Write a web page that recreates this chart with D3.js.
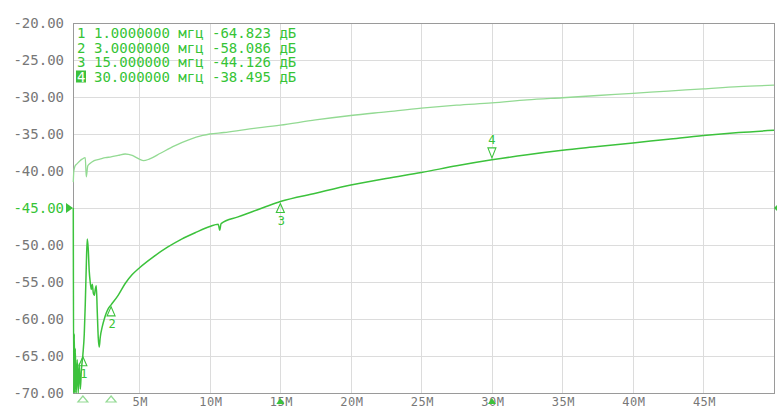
<!DOCTYPE html>
<html>
<head>
<meta charset="utf-8">
<script src="https://cdn.jsdelivr.net/npm/d3@7"></script>
<style>
  html, body { margin: 0; padding: 0; background: #fff; }
  svg { display: block; }
  .mono { font-family: "DejaVu Sans Mono", monospace; }
</style>
</head>
<body>
<svg id="chart" width="777" height="408"></svg>
<script>
// Sweep range, MHz
const freqStart = 0.3;
const freqStop = 50;

// Axis ticks
const yTicks = [-20, -25, -30, -35, -40, -45, -50, -55, -60, -65, -70];
const xTicks = [5, 10, 15, 20, 25, 30, 35, 40, 45];
const xTickLabels = ["5M", "10M", "15M", "20M", "25M", "30M", "35M", "40M", "45M"];
const refLevel = -45;

// Trace 1 (lower, dB) vs frequency (MHz)
const trace1Freq = [0.32, 0.35, 0.39, 0.43, 0.46, 0.53, 0.60, 0.67, 0.74, 0.82, 0.89, 1.0,
  1.10, 1.17, 1.24, 1.31, 1.38, 1.45, 1.52, 1.60, 1.67, 1.74, 1.81, 1.88, 1.95, 2.02, 2.09,
  2.16, 2.23, 2.38, 2.52, 2.66, 2.80, 3.0, 3.5, 4.0, 4.5, 5.0, 6.0, 7.0, 8.0, 9.0, 10.0,
  10.6, 10.7, 10.8, 12.0, 13.0, 14.0, 15.0, 17.5, 20.0, 22.5, 25.0, 27.5, 30.0, 32.5, 35.0,
  37.5, 40.0, 42.5, 45.0, 47.5, 50.0];
const trace1Val = [-45.0, -70.0, -62.0, -70.0, -64.0, -70.0, -65.5, -70.0, -66.0, -69.5, -67.0, -64.823,
  -62.0, -58.0, -53.0, -49.2, -50.5, -53.5, -55.0, -56.0, -55.3, -56.5, -56.8, -56.0, -55.5, -59.0, -62.5,
  -63.8, -62.5, -61.0, -60.0, -59.2, -58.6, -58.086, -56.8, -55.2, -54.0, -53.1, -51.6, -50.3, -49.2, -48.3, -47.5,
  -47.2, -48.0, -47.1, -46.2, -45.5, -44.8, -44.126, -43.0, -41.9, -41.0, -40.2, -39.3, -38.495, -37.8, -37.2,
  -36.7, -36.2, -35.7, -35.2, -34.8, -34.5];

// Trace 2 (upper, dB) vs frequency (MHz)
const trace2Freq = [0.32, 0.36, 0.45, 0.60, 0.80, 0.95, 1.17, 1.24, 1.35, 1.5, 1.8, 2.2, 2.6,
  3.0, 3.5, 4.0, 4.5, 5.0, 5.3, 5.7, 6.5, 7.5, 8.5, 9.5, 10.0, 11.0, 12.5, 15.0, 17.5, 20.0,
  22.5, 25.0, 27.5, 30.0, 32.5, 35.0, 37.5, 40.0, 42.5, 45.0, 47.5, 50.0];
const trace2Val = [-41.5, -40.0, -39.3, -39.0, -38.6, -38.4, -38.2, -40.8, -39.3, -39.0, -38.6, -38.4, -38.2,
  -38.1, -37.9, -37.7, -37.9, -38.4, -38.6, -38.4, -37.6, -36.6, -35.8, -35.2, -35.0, -34.8, -34.4, -33.8, -33.1, -32.5,
  -32.0, -31.5, -31.1, -30.8, -30.4, -30.1, -29.8, -29.5, -29.2, -28.9, -28.6, -28.4];

// Markers on trace 1
const markerIds = ["1", "2", "3", "4"];
const markerFreq = [1.0, 3.0, 15.0, 30.0];
const markerVal = [-64.823, -58.086, -44.126, -38.495];
const markerFreqText = ["1.0000000", "3.0000000", "15.000000", "30.000000"];
const activeMarker = "4";

const svg = d3.select("#chart");
const plot = { left: 73, right: 774, top: 23, bottom: 393 };

const x = d3.scaleLinear().domain([freqStart, freqStop]).range([plot.left, plot.right]);
const y = d3.scaleLinear().domain([-70, -20]).range([plot.bottom, plot.top]);

const green = "#3cc23c";
const textGreen = "#36c436";
const lightGreen = "#93da93";
const gridColor = "#dcdcdc";
const labelGray = "#777";

// Grid
svg.append("g").selectAll("line").data(yTicks).join("line")
  .attr("x1", plot.left).attr("x2", plot.right)
  .attr("y1", d => Math.round(y(d)) + 0.5).attr("y2", d => Math.round(y(d)) + 0.5)
  .attr("stroke", gridColor).attr("stroke-width", 1);
svg.append("g").selectAll("line").data(xTicks).join("line")
  .attr("x1", d => Math.round(x(d)) + 0.5).attr("x2", d => Math.round(x(d)) + 0.5)
  .attr("y1", plot.top).attr("y2", plot.bottom)
  .attr("stroke", gridColor).attr("stroke-width", 1);

// Frame
svg.append("rect")
  .attr("x", plot.left + 0.5).attr("y", plot.top + 0.5)
  .attr("width", plot.right - plot.left).attr("height", plot.bottom - plot.top)
  .attr("fill", "none").attr("stroke", "#9a9a9a").attr("stroke-width", 1);

// Y axis labels
svg.append("g").selectAll("text").data(yTicks).join("text")
  .attr("class", "mono")
  .attr("x", 64).attr("y", d => y(d)).attr("dy", "0.35em")
  .attr("text-anchor", "end").attr("font-size", 14)
  .attr("fill", d => d === refLevel ? textGreen : labelGray)
  .text(d => d.toFixed(2));

// X axis labels
svg.append("g").selectAll("text").data(xTicks).join("text")
  .attr("class", "mono")
  .attr("x", d => x(d) + 1).attr("y", 406)
  .attr("text-anchor", "middle").attr("font-size", 12)
  .attr("letter-spacing", 0.5)
  .attr("fill", labelGray)
  .text((d, i) => xTickLabels[i]);

// Reference level arrows
const ry = y(refLevel);
svg.append("path")
  .attr("d", `M${plot.left - 7},${ry - 5}L${plot.left},${ry}L${plot.left - 7},${ry + 5}Z`)
  .attr("fill", green);
svg.append("path")
  .attr("d", `M${plot.right + 4},${ry - 4}L${plot.right},${ry}L${plot.right + 4},${ry + 4}Z`)
  .attr("fill", green);

// Traces
const line = d3.line().x(d => x(d[0])).y(d => y(d[1])).curve(d3.curveMonotoneX);
svg.append("path")
  .datum(d3.zip(trace2Freq, trace2Val))
  .attr("d", line)
  .attr("fill", "none").attr("stroke", lightGreen).attr("stroke-width", 1.3)
  .attr("stroke-linejoin", "round");
svg.append("path")
  .datum(d3.zip(trace1Freq, trace1Val))
  .attr("d", line)
  .attr("fill", "none").attr("stroke", green).attr("stroke-width", 1.5)
  .attr("stroke-linejoin", "round");

// Marker symbols on the trace
markerIds.forEach((id, i) => {
  const mx = x(markerFreq[i]);
  const my = y(markerVal[i]);
  const g = svg.append("g");
  if (id === activeMarker) {
    g.append("path")
      .attr("d", `M${mx - 4},${my - 12}L${mx + 4},${my - 12}L${mx},${my - 2}Z`)
      .attr("fill", "#fff").attr("stroke", green).attr("stroke-width", 1.1);
    g.append("text").attr("class", "mono")
      .attr("x", mx).attr("y", my - 16).attr("text-anchor", "middle")
      .attr("font-size", 12).attr("fill", textGreen).text(id);
  } else {
    g.append("path")
      .attr("d", `M${mx},${my + 2}L${mx + 4},${my + 11}L${mx - 4},${my + 11}Z`)
      .attr("fill", "none").attr("stroke", green).attr("stroke-width", 1.1);
    g.append("text").attr("class", "mono")
      .attr("x", mx + 1).attr("y", my + 23).attr("text-anchor", "middle")
      .attr("font-size", 12).attr("fill", textGreen).text(id);
  }
  // Marker position indicators under the axis
  const by = 396;
  if (i < 2) {
    svg.append("path")
      .attr("d", `M${mx},${by}L${mx + 5},${by + 6}L${mx - 5},${by + 6}Z`)
      .attr("fill", "none").attr("stroke", lightGreen).attr("stroke-width", 1.2);
  } else {
    svg.append("path")
      .attr("d", `M${mx},${by + 2}L${mx + 4},${by + 8}L${mx - 4},${by + 8}Z`)
      .attr("fill", green);
  }
});

// Marker readout table
const legend = svg.append("g").attr("class", "mono").attr("font-size", 14);
markerIds.forEach((id, i) => {
  const ly = 38 + i * 14.5;
  if (id === activeMarker) {
    legend.append("rect").attr("x", 76).attr("y", ly - 11).attr("width", 10).attr("height", 12)
      .attr("fill", green);
    legend.append("text").attr("x", 77).attr("y", ly).attr("fill", "#fff").text(id);
  } else {
    legend.append("text").attr("x", 77).attr("y", ly).attr("fill", textGreen).text(id);
  }
  const valTxt = (markerVal[i] < 0 ? "-" : "") + Math.abs(markerVal[i]).toFixed(3);
  legend.append("text").attr("x", 94).attr("y", ly).attr("fill", textGreen)
    .style("white-space", "pre")
    .text(markerFreqText[i] + " мгц " + valTxt + " дБ");
});
</script>
</body>
</html>
